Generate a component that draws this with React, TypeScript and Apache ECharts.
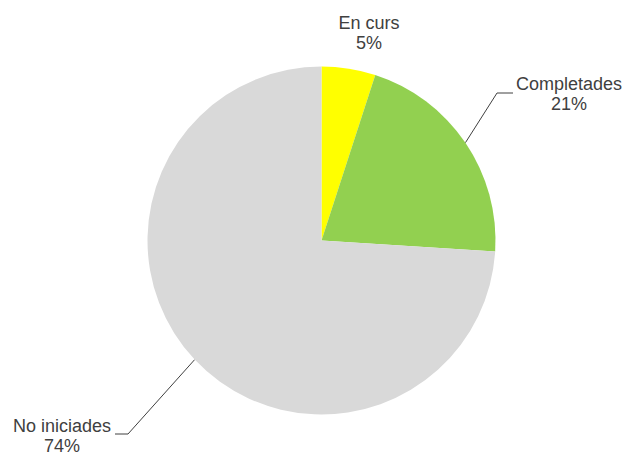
import React, { useEffect, useRef } from "react";
import * as echarts from "echarts";

const categories = ["En curs", "Completades", "No iniciades"];
const values = [5, 21, 74];
const colors = ["#ffff00", "#92d050", "#d9d9d9"];

// label placement (layout only)
const labelPos = [
  { x: 369, y: 33, line: null as null | number[][] },
  { x: 569, y: 94, line: [[497, 93], [513, 93]] },
  { x: 62, y: 436, line: [[128, 434], [115, 434]] },
];

export default function App() {
  const ref = useRef<HTMLDivElement>(null);
  useEffect(() => {
    const chart = echarts.init(ref.current!, null, { renderer: "svg" });
    chart.setOption({
      animation: false,
      backgroundColor: "#ffffff",
      series: [
        {
          type: "pie",
          center: [321.5, 240.5],
          radius: 174,
          startAngle: 90,
          clockwise: true,
          avoidLabelOverlap: false,
          silent: true,
          data: categories.map((c, i) => ({
            name: c,
            value: values[i],
            itemStyle: { color: colors[i] },
            labelLine: { show: i !== 0 },
          })),
          label: {
            show: true,
            position: "outside",
            formatter: "{b}\n{d}%",
            fontFamily: "Liberation Sans, Arial, sans-serif",
            fontSize: 18,
            lineHeight: 20,
            color: "#404040",
            align: "center",
          },
          labelLine: {
            show: true,
            length: 20,
            length2: 15,
            lineStyle: { color: "#404040", width: 1 },
          },
          labelLayout: (params: any) => {
            const p = labelPos[params.dataIndex];
            const res: any = {
              x: p.x,
              y: p.y,
              align: "center",
              verticalAlign: "middle",
            };
            if (p.line && params.labelLinePoints) {
              const start = params.labelLinePoints[0];
              res.labelLinePoints = [start, p.line[0], p.line[1]];
            }
            return res;
          },
        },
      ],
    });
    return () => chart.dispose();
  }, []);
  return (
    <div
      ref={ref}
      style={{ position: "fixed", left: 0, top: 0, width: 627, height: 455 }}
    />
  );
}
